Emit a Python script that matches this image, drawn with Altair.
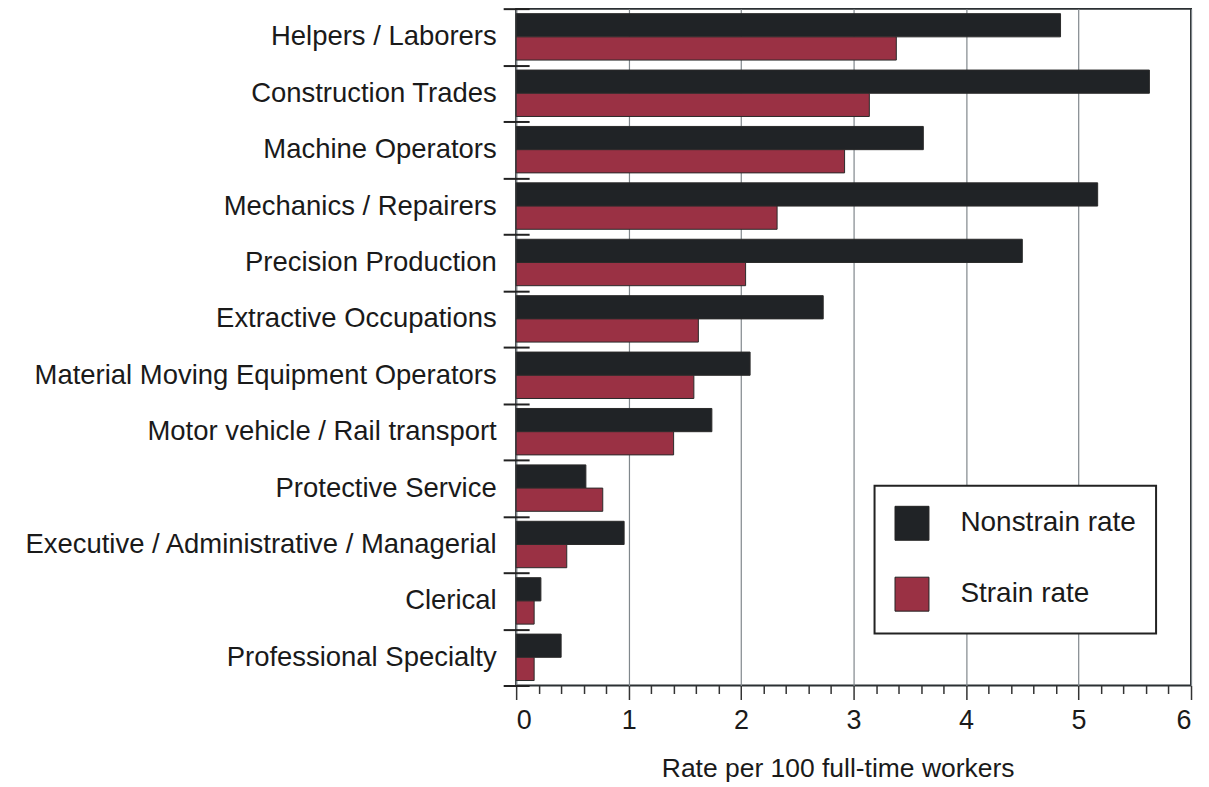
import altair as alt
import pandas as pd

categories = [
    "Helpers / Laborers",
    "Construction Trades",
    "Machine Operators",
    "Mechanics / Repairers",
    "Precision Production",
    "Extractive Occupations",
    "Material Moving Equipment Operators",
    "Motor vehicle / Rail transport",
    "Protective Service",
    "Executive / Administrative / Managerial",
    "Clerical",
    "Professional Specialty",
]
nonstrain = [4.84, 5.63, 3.62, 5.17, 4.50, 2.73, 2.08, 1.74, 0.62, 0.96, 0.22, 0.40]
strain = [3.38, 3.14, 2.92, 2.32, 2.04, 1.62, 1.58, 1.40, 0.77, 0.45, 0.16, 0.16]
series_names = ["Nonstrain rate", "Strain rate"]
series_colors = ["#202326", "#9a3144"]
x_tick_values = [i / 5 for i in range(31)]

rows = []
for c, n, s in zip(categories, nonstrain, strain):
    rows.append({"category": c, "series": series_names[0], "value": n})
    rows.append({"category": c, "series": series_names[1], "value": s})
df = pd.DataFrame(rows)

FONT = "Liberation Sans"
TXT = "#1a1a1a"

chart = alt.Chart(df).mark_bar(stroke="#2a2a2a", strokeWidth=1).encode(
    y=alt.Y(
        "category:N",
        sort=categories,
        scale=alt.Scale(paddingInner=0, paddingOuter=0),
        axis=alt.Axis(
            title=None,
            domain=False,
            tickBand="extent",
            tickSize=26,
            tickWidth=2,
            tickColor="#222222",
            offset=-13,
            labelPadding=7,
            labelFontSize=27.5,
            labelFont=FONT,
            labelColor=TXT,
            labelLimit=700,
        ),
    ),
    yOffset=alt.YOffset(
        "series:N",
        sort=series_names,
        scale=alt.Scale(paddingInner=0, paddingOuter=0.215),
    ),
    x=alt.X(
        "value:Q",
        scale=alt.Scale(domain=[0, 6], nice=False),
        axis=alt.Axis(
            values=x_tick_values,
            labelExpr="datum.value % 1 === 0 ? format(datum.value, 'd') : ''",
            tickSize={"condition": {"test": "datum.value % 1 === 0", "value": 14}, "value": 8},
            tickColor="#333333",
            tickWidth=1.5,
            labelPadding=8,
            labelFontSize=27,
            labelFont=FONT,
            labelColor=TXT,
            domain=False,
            grid=True,
            gridColor="#80878c",
            gridWidth=1.2,
            gridOpacity={"condition": {"test": "datum.value % 1 === 0", "value": 1}, "value": 0},
            title="Rate per 100 full-time workers",
            titleFontSize=26.5,
            titleFont=FONT,
            titleFontWeight="normal",
            titleColor=TXT,
            titleX=322,
            titleY=91,
            titleBaseline="alphabetic",
        ),
    ),
    color=alt.Color(
        "series:N",
        scale=alt.Scale(domain=series_names, range=series_colors),
        legend=alt.Legend(
            title=None,
            orient="none",
            legendX=359,
            legendY=478,
            symbolType="square",
            symbolSize=1156,
            symbolStrokeColor="#222222",
            symbolStrokeWidth=1,
            labelFontSize=28,
            labelFont=FONT,
            labelColor=TXT,
            labelLimit=400,
            labelOffset=31,
            rowPadding=32,
            padding=20,
            strokeColor="#222222",
            fillColor="#ffffff",
        ),
    ),
).properties(
    width=676,
    height=678,
    autosize=alt.AutoSizeParams(type="none"),
    padding={"left": 509, "top": 0, "right": 10, "bottom": 100},
).configure_view(
    stroke="#2b3033", strokeWidth=2
).configure_legend(
    strokeWidth=2
)

chart.save("out.html", embed_options={"renderer": "svg", "actions": False})
